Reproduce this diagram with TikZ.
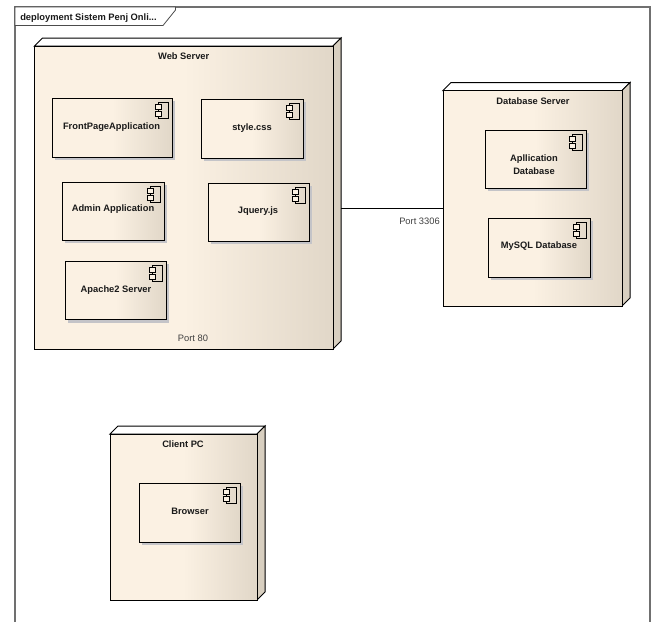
\documentclass[tikz,border=0pt]{standalone}
\usepackage{fontspec}
\setmainfont{Liberation Sans}
\definecolor{nodeA}{HTML}{FBF1E3}
\definecolor{nodeB}{HTML}{E1D7C8}
\definecolor{sidec}{HTML}{D8CFC0}
\definecolor{framec}{HTML}{707070}
\definecolor{shadowc}{HTML}{C4C4C8}
\definecolor{txt}{HTML}{1A1A1A}
\pgfdeclarehorizontalshading{eashade}{100bp}{color(0bp)=(nodeA); color(50bp)=(nodeA); color(75bp)=(nodeB); color(100bp)=(nodeB)}
\tikzset{
  x=0.75pt,y=-0.75pt,
  boxline/.style={draw=black,line width=0.75pt},
  shaded box/.style={boxline,shading=eashade,rectangle,inner sep=0pt,outer sep=0pt},
  lbl/.style={font=\bfseries\fontsize{7}{9.75}\selectfont,text=txt,align=center,inner sep=0pt,yshift=-0.6pt},
  plain lbl/.style={font=\fontsize{7}{9}\selectfont,text=black!75,inner sep=0pt},
  framed/.style={draw=framec,line width=1.1pt},
}
% \depnode{name}{x1}{y1}{x2}{y2}
\newcommand{\depnode}[5]{%
  \draw[boxline,fill=white] (#2,#3) -- (#2+8,#3-8) -- (#4+8,#3-8) -- (#4,#3) -- cycle;
  \draw[boxline,fill=sidec] (#4,#3) -- (#4+8,#3-8) -- (#4+8,#5-8) -- (#4,#5) -- cycle;
  \node[shaded box,minimum width={(#4-#2)*0.75pt},minimum height={(#5-#3)*0.75pt}] (#1) at ({(#2+#4)/2},{(#3+#5)/2}) {};
}
% \compbox{name}{x1}{y1}{x2}{y2}
\newcommand{\compbox}[5]{%
  \fill[shadowc] (#2+3,#3+3) rectangle (#4+3,#5+3);
  \node[shaded box,minimum width={(#4-#2)*0.75pt},minimum height={(#5-#3)*0.75pt}] (#1) at ({(#2+#4)/2},{(#3+#5)/2}) {};
  \draw[line width=0.6pt] (#4-14,#3+4) rectangle (#4-4,#3+20);
  \draw[line width=0.6pt,fill=nodeA] (#4-17,#3+6) rectangle (#4-11,#3+11);
  \draw[line width=0.6pt,fill=nodeA] (#4-17,#3+13) rectangle (#4-11,#3+18);
}
\begin{document}
\begin{tikzpicture}
\useasboundingbox (0,0) rectangle (655,622);
\fill[white] (0,0) rectangle (655,622);
% frame
\coordinate (fbl) at (15,622);
\coordinate (fbr) at (650,622);
\coordinate (ftl) at (15,7);
\coordinate (ftr) at (650,7);
\draw[framed] (fbl) -- (ftl) -- (ftr) -- (fbr);
\draw[draw=black!70,line width=0.6pt,fill=white] (15,7) -- (175.5,7) -- (175.5,10) -- (163,25.5) -- (15,25.5) -- cycle;
\node[lbl,anchor=west] (ftitle) at (20,17) {deployment Sistem Penj Onli...};
% nodes
\depnode{web}{34.5}{46}{333}{349}
\depnode{db}{443}{90.5}{622}{306}
\depnode{client}{110}{434}{257}{600}
% connector
\coordinate (c1) at (341,208);
\draw[line width=0.75pt] (c1) -- (c1 -| db.west);
% components
\compbox{fp}{52}{98}{172}{157}
\compbox{css}{201}{99}{303}{158}
\compbox{adm}{62}{182}{164}{240}
\compbox{jq}{208}{183}{309}{241}
\compbox{apa}{65}{261}{166}{319.5}
\compbox{adb}{485}{130}{586}{188}
\compbox{mys}{488}{218}{590}{277}
\compbox{brw}{139}{483}{240}{542}
% labels
\node[lbl] (t1) at (183.7,55.5) {Web Server};
\node[lbl] (t2) at (533,100.5) {Database Server};
\node[lbl] (t3) at (183,443.5) {Client PC};
\node[lbl] (t4) at (111.5,126) {FrontPageApplication};
\node[lbl] (t5) at (252,127) {style.css};
\node[lbl] (t6) at (113,208.5) {Admin Application};
\node[lbl] (t7) at (258,210) {Jquery.js};
\node[lbl] (t8) at (116,289) {Apache2 Server};
\node[lbl] (t9) at (534,164) {Apllication\\Database};
\node[lbl] (t10) at (539,245.7) {MySQL Database};
\node[lbl] (t11) at (190,510.5) {Browser};
\node[plain lbl] (p1) at (193,338) {Port 80};
\node[plain lbl] (p2) at (419.5,221) {Port 3306};
\end{tikzpicture}
\end{document}
